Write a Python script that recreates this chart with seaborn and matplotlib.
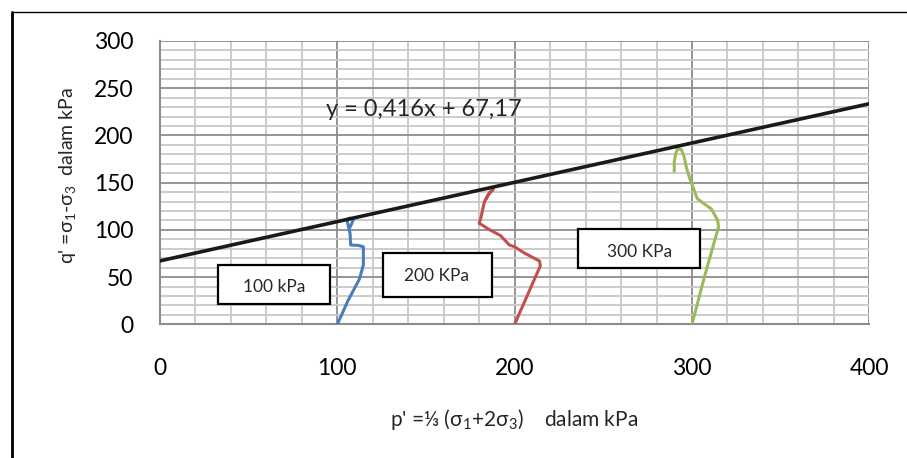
import matplotlib
matplotlib.use("Agg")
import matplotlib.pyplot as plt
from matplotlib.patches import Rectangle
from matplotlib.lines import Line2D
from matplotlib.ticker import MultipleLocator
import numpy as np
import pandas as pd
import seaborn as sns

# Stress paths p'-q' for three confining pressures
p_100 = [100, 106, 112.5, 114.7, 114.7, 112, 107.5, 107.2, 106.2, 105.5, 107, 109, 108, 107.2]
q_100 = [0, 25, 48, 63, 82, 83.5, 84, 96, 104, 110, 112.5, 111, 106, 103]

p_200 = [200, 207, 214.5, 214, 205, 200, 197, 192, 186, 180, 181, 182, 183, 185, 188, 186, 184]
q_200 = [0, 30, 62, 67, 76, 82, 84, 94, 100, 107, 113, 122, 130, 137, 143, 140, 133]

p_300 = [300, 307, 313, 315, 314.5, 311, 303, 301, 299, 297, 295.5, 294, 292, 291, 290, 290]
q_300 = [0, 50, 90, 103, 110, 122, 133, 143, 153, 165, 178, 185, 186, 182, 172, 162]

series_labels = ["100 kPa", "200 KPa", "300 KPa"]
series_colors = ["#4a7ebb", "#c0504d", "#9bbb59"]

# Failure envelope fitted to the path end points
slope, intercept = 0.416, 67.17
equation = "y = 0,416x + 67,17"

x_ticks = [0, 100, 200, 300, 400]
y_ticks = [0, 50, 100, 150, 200, 250, 300]

sns.set_theme(style="white")
plt.rcParams["font.family"] = ["Lato", "DejaVu Sans"]
plt.rcParams["mathtext.fontset"] = "custom"
plt.rcParams["mathtext.rm"] = "Lato"
plt.rcParams["mathtext.it"] = "Lato"

fig = plt.figure(figsize=(9.07, 4.58), dpi=100)
fig.patch.set_facecolor("white")
ax = fig.add_axes([160 / 907, 1 - 324.3 / 458, (869.3 - 160) / 907, (324.3 - 41) / 458])
ax.set_facecolor("white")

ax.set_xlim(0, 400)
ax.set_ylim(0, 300)

# Grid: major and minor, Excel-like
ax.xaxis.set_major_locator(MultipleLocator(100))
ax.xaxis.set_minor_locator(MultipleLocator(20))
ax.yaxis.set_major_locator(MultipleLocator(50))
ax.yaxis.set_minor_locator(MultipleLocator(10))
ax.grid(which="major", color="#8c8c8c", linewidth=1.3, zorder=0)
ax.grid(which="minor", color="#c8c8c8", linewidth=1.3, zorder=0)
ax.set_axisbelow(True)

for side in ["top", "right"]:
    ax.spines[side].set_visible(False)
for side in ["left", "bottom"]:
    ax.spines[side].set_color("#8c8c8c")
    ax.spines[side].set_linewidth(1.5)

ax.tick_params(axis="both", which="major", direction="out", length=6,
               width=1.3, color="#8c8c8c", labelsize=16.5, labelcolor="black")
ax.tick_params(axis="x", which="major", pad=18)
ax.tick_params(axis="y", which="major", pad=13)
ax.tick_params(which="minor", length=0)
ax.set_xticks(x_ticks)
ax.set_yticks(y_ticks)
ax.set_xticklabels([str(v) for v in x_ticks])
ax.set_yticklabels([str(v) for v in y_ticks])

# Envelope line
xe = np.array([0, 400])
sns.lineplot(x=xe, y=slope * xe + intercept, color="#1a1a1a", linewidth=2.6, ax=ax, zorder=4)

# Stress paths
for px, qy, col in zip([p_100, p_200, p_300], [q_100, q_200, q_300], series_colors):
    sns.lineplot(x=px, y=qy, sort=False, estimator=None, color=col, linewidth=2.2,
                 ax=ax, zorder=3)

# Labelled boxes for each confining pressure
boxes = [
    ((32.7, 21.5), 63.2, 41.3, (64.3, 39.0)),
    ((125.8, 28.9), 61.5, 46.6, (156.2, 51.5)),
    ((235.8, 59.6), 68.8, 41.2, (270.2, 77.0)),
]
for (xy, w, h, tpos), lab in zip(boxes, series_labels):
    ax.add_patch(Rectangle(xy, w, h, facecolor="white", edgecolor="black",
                           linewidth=1.6, zorder=5))
    ax.text(tpos[0], tpos[1], lab, ha="center", va="center", fontsize=12.5, zorder=6)

ax.text(148.5, 227, equation, ha="center", va="center", fontsize=17, zorder=6)

ax.set_xlabel("")
ax.set_ylabel("")
fig.text(514 / 907, 1 - 419 / 458, r"p' =⅓ (σ$_\mathregular{1}$+2σ$_\mathregular{3}$)    dalam kPa",
         ha="center", va="center", fontsize=15, family=["Lato", "DejaVu Sans"])
fig.text(68 / 907, 1 - 176 / 458, r"q' =σ$_\mathregular{1}$-σ$_\mathregular{3}$  dalam kPa",
         ha="center", va="center", rotation=90, fontsize=14, family=["Lato", "DejaVu Sans"])

# Chart frame edges
fig.add_artist(Line2D([11.5 / 907, 11.5 / 907], [0, 1 - 11.5 / 458], transform=fig.transFigure,
                      color="black", linewidth=2))
fig.add_artist(Line2D([11.5 / 907, 1], [1 - 11.5 / 458, 1 - 11.5 / 458], transform=fig.transFigure,
                      color="black", linewidth=1))

fig.savefig("out.png", dpi=100)
